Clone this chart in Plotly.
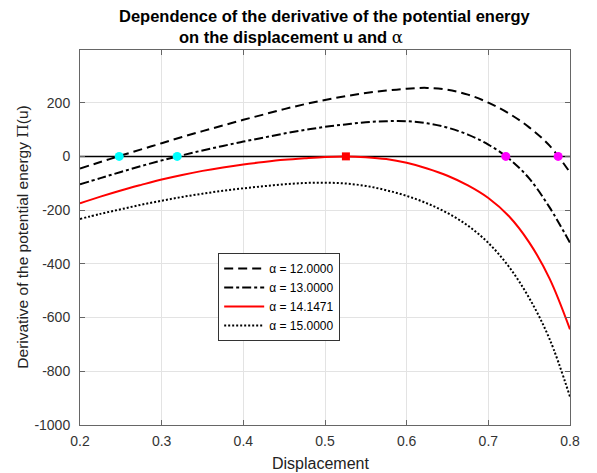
import plotly.graph_objects as go

# ---- data ----
u = [0.200, 0.225, 0.250, 0.275, 0.300, 0.325, 0.350, 0.375, 0.400, 0.425, 0.450, 0.475, 0.500,
     0.525, 0.550, 0.575, 0.600, 0.625, 0.650, 0.675, 0.700, 0.725, 0.750, 0.775, 0.800]

d_a12 = [-45, -21, 3, 26, 49, 72, 94, 115, 136, 156, 176, 194, 210,
         224, 236, 245, 252, 255, 248, 230, 200, 160, 108, 40, -60]
d_a13 = [-104, -81, -58, -36, -15, 4, 22, 39, 55, 70, 85, 98, 110,
         119, 127, 131, 131, 123, 107, 81, 44, -8, -82, -190, -322]
d_a1414 = [-175, -150, -127, -106, -86, -69, -54, -41, -30, -21, -13, -7, -2,
           0, -3, -10, -24, -45, -72, -108, -155, -222, -320, -455, -644]
d_a15 = [-233, -214, -197, -180, -165, -151, -139, -128, -119, -111, -104, -99, -98,
         -101, -110, -126, -147, -175, -211, -258, -322, -410, -527, -680, -895]

series_names = ["α = 12.0000", "α = 13.0000", "α = 14.1471", "α = 15.0000"]

zero_u = [0.2, 0.8]
zero_val = [0, 0]

left_roots_u = [0.248, 0.319]
crit_root_u = [0.5256]
right_roots_u = [0.7214, 0.7855]

x_ticks = [0.2, 0.3, 0.4, 0.5, 0.6, 0.7, 0.8]
y_ticks = [-1000, -800, -600, -400, -200, 0, 200]

title_line1 = "Dependence of the derivative of the potential energy"
title_line2 = "on the displacement u and <span style='font-family:DejaVu Serif;font-weight:normal'>α</span>"
x_title = "Displacement"
y_title = "Derivative of the potential energy <span style='font-family:DejaVu Serif'>Π</span>(u)"

fig = go.Figure()

fig.add_trace(go.Scatter(x=zero_u, y=zero_val, mode="lines",
                         line=dict(color="black", width=1.5), showlegend=False, hoverinfo="skip"))

styles = [
    dict(color="black", width=2, dash="9px,5px"),
    dict(color="black", width=2, dash="9px,3px,3px,3px"),
    dict(color="#ff0000", width=2),
    dict(color="black", width=2, dash="2px,2px"),
]
for name, vals, st in zip(series_names, [d_a12, d_a13, d_a1414, d_a15], styles):
    fig.add_trace(go.Scatter(x=u, y=vals, mode="lines", name=name,
                             line=dict(shape="spline", smoothing=1.0, **st)))

fig.add_trace(go.Scatter(x=left_roots_u, y=[0] * len(left_roots_u), mode="markers",
                         marker=dict(color="#00ffff", size=9, symbol="circle"), showlegend=False))
fig.add_trace(go.Scatter(x=crit_root_u, y=[0] * len(crit_root_u), mode="markers",
                         marker=dict(color="#ff0000", size=8, symbol="square"), showlegend=False))
fig.add_trace(go.Scatter(x=right_roots_u, y=[0] * len(right_roots_u), mode="markers",
                         marker=dict(color="#ff00ff", size=9, symbol="circle"), showlegend=False))

axis_common = dict(
    showline=True, linecolor="#666666", linewidth=1, mirror="ticks",
    ticks="inside", ticklen=5, tickcolor="#666666",
    showgrid=True, gridcolor="#e3e3e3", gridwidth=1, zeroline=False,
    tickfont=dict(family="Liberation Sans, Arial", size=14, color="#333333"),
)

fig.update_xaxes(range=[0.2, 0.8], tickvals=x_ticks, ticktext=[f"{t:.1f}" for t in x_ticks],
                 ticklabelstandoff=3, **axis_common)
fig.update_yaxes(range=[-1000, 396], tickvals=y_ticks, ticktext=[str(t) for t in y_ticks],
                 ticklabelstandoff=6, **axis_common)

fig.update_layout(
    width=597, height=473,
    margin=dict(l=80, r=27, t=50, b=48),
    paper_bgcolor="white", plot_bgcolor="white",
    font=dict(family="Liberation Sans, Arial", color="#222222"),
    showlegend=True,
    legend=dict(x=0.282, y=0.459, xanchor="left", yanchor="top",
                bgcolor="white", bordercolor="#333333", borderwidth=1,
                font=dict(size=12, color="black"), tracegroupgap=0, itemwidth=40),
    annotations=[
        dict(text="<b>" + title_line1 + "</b>", xref="paper", yref="paper", x=0.5, y=1.090,
             xanchor="center", yanchor="middle", showarrow=False,
             font=dict(size=16.5, color="black")),
        dict(text="<b>" + title_line2 + "</b>", xref="paper", yref="paper", x=0.4306, y=1.032,
             xanchor="center", yanchor="middle", showarrow=False,
             font=dict(size=16.5, color="black")),
        dict(text=x_title, xref="paper", yref="paper", x=0.49, y=-0.103,
             xanchor="center", yanchor="middle", showarrow=False,
             font=dict(size=16, color="#222222")),
        dict(text=y_title, xref="paper", yref="paper", x=-0.118, y=0.5,
             xanchor="center", yanchor="middle", showarrow=False, textangle=-90,
             font=dict(size=15.5, color="#222222")),
    ],
)

fig.write_html("out.html")
